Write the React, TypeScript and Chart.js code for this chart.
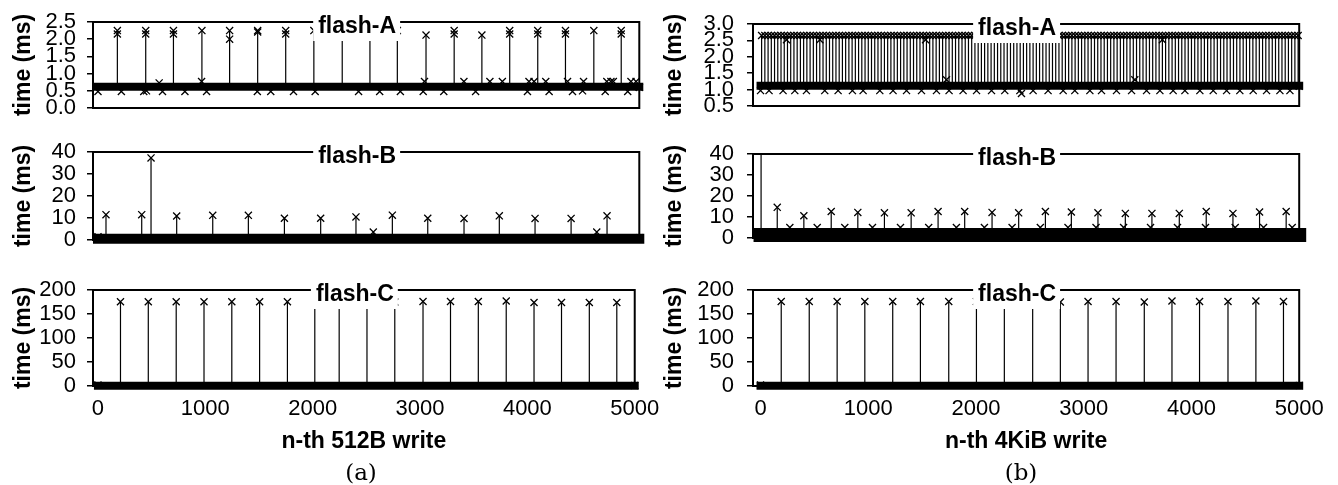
import React, { useEffect, useRef } from "react";
import { Chart, registerables } from "chart.js";

Chart.register(...registerables);
Chart.defaults.font.family = '"Liberation Sans", Arial, sans-serif';
Chart.defaults.color = "#000";

// ---------------- shared tick values ----------------
const X_TICKS = [0, 1000, 2000, 3000, 4000, 5000];
const Y_TICKS_A512 = [0, 0.5, 1, 1.5, 2, 2.5];
const Y_TICKS_A4K = [0.5, 1, 1.5, 2, 2.5, 3];
const Y_TICKS_B = [0, 10, 20, 30, 40];
const Y_TICKS_C = [0, 50, 100, 150, 200];

// ---------------- (a) n-th 512B write ----------------
// flash-A
const A512_BASE = 0.62;
const A512_SPIKE_X = [179, 441, 697, 960, 1216, 1475, 1734, 1994, 2256, 2512, 2765, 3030, 3290, 3546, 3803, 4062, 4318, 4580, 4833];
const A512_SPIKE_Y = [2.25, 2.25, 2.25, 2.25, 2.25, 2.25, 2.25, 2.25, 2.25, 2.25, 2.25, 2.12, 2.25, 2.12, 2.25, 2.25, 2.25, 2.25, 2.25];
const A512_MARK_X = [
  179, 441, 697, 1216, 1475, 1734, 3290, 3803, 4062, 4318, 4833,
  0, 216, 423, 448, 596, 803, 1003, 1472, 1596, 1806, 2006, 2407, 2602, 2793, 3004, 3194, 3488, 3967, 4167, 4383, 4476, 4685, 4893, 5000,
  565, 957, 3016, 3380, 3620, 3735, 3981, 4028, 4136, 4337, 4485, 4700, 4738, 4760, 4923, 4970, 5000,
];
const A512_MARK_Y = [
  2.15, 2.15, 2.15, 2.0, 2.21, 2.15, 2.15, 2.15, 2.15, 2.15, 2.15,
  0.48, 0.48, 0.48, 0.5, 0.48, 0.48, 0.48, 0.48, 0.48, 0.48, 0.48, 0.48, 0.48, 0.48, 0.48, 0.48, 0.48, 0.48, 0.48, 0.48, 0.5, 0.48, 0.48, 0.6,
  0.73, 0.77, 0.77, 0.77, 0.77, 0.77, 0.77, 0.77, 0.77, 0.77, 0.77, 0.77, 0.77, 0.77, 0.77, 0.77, 0.6,
];

// flash-B
const B512_BASE = 0.6;
const B512_SPIKE_X = [74, 404, 490, 727, 1060, 1389, 1722, 2057, 2383, 2543, 2719, 3046, 3381, 3707, 4037, 4370, 4607, 4702];
const B512_SPIKE_Y = [11.5, 11.5, 37.3, 10.9, 11.2, 11.2, 9.9, 9.9, 10.5, 3.6, 11.3, 9.9, 9.8, 11.0, 9.8, 9.8, 3.6, 11.0];
const B512_MARK_X = [0, 5000];
const B512_MARK_Y = [1.5, 1.0];

// flash-C
const C512_BASE = 0.5;
const C512_SPIKE_X = [210, 469, 729, 988, 1247, 1506, 1765, 2020, 2247, 2506, 2765, 3028, 3284, 3543, 3803, 4062, 4318, 4577, 4833];
const C512_SPIKE_Y = [175.5, 175.5, 175.5, 175.5, 175.5, 175.5, 175.5, 175, 175, 175, 175, 176, 176, 176, 177, 174, 174, 174, 174];
const C512_MARK_X = [0, 5000];
const C512_MARK_Y = [2, 1];

// ---------------- (b) n-th 4KiB write ----------------
// flash-A
const A4K_BASE = 1.12;
const A4K_PEAK = 2.65;
const A4K_SPIKE_X = [
  10, 40, 70, 100, 130, 160, 190, 220, 250, 280, 310, 340, 370, 400, 430, 460, 490, 520, 550, 580,
  610, 640, 670, 700, 730, 760, 790, 820, 850, 880, 910, 940, 970, 1000, 1030, 1060, 1090, 1120, 1150, 1180,
  1210, 1240, 1270, 1300, 1330, 1360, 1390, 1420, 1450, 1480, 1510, 1540, 1570, 1600, 1630, 1660, 1690, 1720, 1750, 1780,
  1810, 1840, 1870, 1900, 1930, 1960, 1990, 2020, 2050, 2080, 2110, 2140, 2170, 2200, 2230, 2260, 2290, 2320, 2350, 2380,
  2410, 2440, 2470, 2500, 2530, 2560, 2590, 2620, 2650, 2680, 2710, 2740, 2770, 2800, 2830, 2860, 2890, 2920, 2950, 2980,
  3010, 3040, 3070, 3100, 3130, 3160, 3190, 3220, 3250, 3280, 3310, 3340, 3370, 3400, 3430, 3460, 3490, 3520, 3550, 3580,
  3610, 3640, 3670, 3700, 3730, 3760, 3790, 3820, 3850, 3880, 3910, 3940, 3970, 4000, 4030, 4060, 4090, 4120, 4150, 4180,
  4210, 4240, 4270, 4300, 4330, 4360, 4390, 4420, 4450, 4480, 4510, 4540, 4570, 4600, 4630, 4660, 4690, 4720, 4750, 4780,
  4810, 4840, 4870, 4900, 4930, 4960, 4990,
];
const A4K_MARK_X = [
  0, 79, 209, 318, 426, 596, 720, 853, 952, 1107, 1230, 1355, 1494, 1633, 1750, 1880, 2005, 2144, 2267, 2407,
  2530, 2669, 2809, 2917, 3057, 3165, 3304, 3444, 3583, 3707, 3830, 3939, 4078, 4202, 4326, 4449, 4573, 4697, 4821, 4914, 5000,
  2422, 241, 551, 1532, 3730, 1726, 3474,
];
const A4K_MARK_Y = [
  0.97, 0.97, 0.97, 0.97, 0.97, 0.97, 0.97, 0.97, 0.97, 0.97, 0.97, 0.97, 0.97, 0.97, 0.97, 0.97, 0.97, 0.97, 0.97, 0.97,
  0.97, 0.97, 0.97, 0.97, 0.97, 0.97, 0.97, 0.97, 0.97, 0.97, 0.97, 0.97, 0.97, 0.97, 0.97, 0.97, 0.97, 0.97, 0.97, 0.97, 1.1,
  0.88, 2.52, 2.52, 2.52, 2.52, 1.3, 1.3,
];

// flash-B
const B4K_BASE = 1.4;
const B4K_SPIKE_X = [
  5, 155, 272, 402, 526, 656, 782, 903, 1039, 1150, 1299, 1398, 1561, 1648, 1818, 1895, 2078, 2149, 2335, 2396,
  2597, 2644, 2854, 2885, 3114, 3132, 3370, 3386, 3620, 3633, 3870, 3887, 4130, 4137, 4385, 4406, 4632, 4669, 4879, 4935,
];
const B4K_SPIKE_Y = [
  60, 14.6, 5.0, 10.6, 5.0, 12.6, 5.0, 12.2, 5.0, 12.0, 5.0, 12.0, 5.0, 12.6, 5.0, 12.6, 5.0, 12.2, 5.0, 12.0,
  5.0, 12.6, 5.0, 12.4, 5.0, 12.0, 5.0, 11.7, 5.0, 11.7, 5.0, 11.7, 5.0, 12.6, 11.7, 5.0, 12.4, 5.0, 12.6, 5.0,
];
const B4K_MARK_X = [0, 5000];
const B4K_MARK_Y = [2, 1.5];

// flash-C
const C4K_BASE = 0.5;
const C4K_SPIKE_X = [192, 452, 711, 968, 1227, 1484, 1747, 2004, 2263, 2526, 2783, 3040, 3300, 3562, 3819, 4075, 4339, 4598, 4854];
const C4K_SPIKE_Y = [176, 176, 176, 176, 176, 176, 176, 176, 175, 175, 175, 176, 176, 175, 177, 176, 176, 177, 176];
const C4K_MARK_X = [0, 5000];
const C4K_MARK_Y = [2, 1];

// ---------------- panel definitions ----------------
type PanelData = {
  title: string;
  yTicks: number[];
  decimals: number;
  base: number;
  spikeX: number[];
  spikeY: number[] | number;
  markX: number[];
  markY: number[];
  xTitle?: string;
};

type PanelLayout = {
  left: number;
  top: number;
  width: number;
  height: number;
  padL: number;
  padR: number;
  padT: number;
  padB: number;
  yAxisW: number;
  tickPad: number;
  xMin: number;
  band: number;
  showX: boolean;
  xAxisH: number;
};

const TICK_FONT = 22;
const BOLD_FONT = 23;

const framePlugin = {
  id: "frame",
  afterDatasetsDraw(chart: any, _args: any, opts: any) {
    const { ctx, chartArea } = chart;
    const { left, top, right, bottom } = chartArea;
    ctx.save();
    ctx.strokeStyle = "#000";
    ctx.lineWidth = 2;
    ctx.strokeRect(left, top, right - left, bottom - top);
    ctx.font = `bold ${BOLD_FONT}px "Liberation Sans", Arial, sans-serif`;
    const text = opts.text || "";
    const w = ctx.measureText(text).width;
    const cx = (left + right) / 2 - 9;
    ctx.fillStyle = "#fff";
    ctx.fillRect(cx - w / 2 - 5, top - 15, w + 9, 34);
    ctx.fillStyle = "#000";
    ctx.textAlign = "center";
    ctx.textBaseline = "alphabetic";
    ctx.fillText(text, cx, top + 10.5);
    ctx.restore();
  },
};

function buildConfig(d: PanelData, L: PanelLayout): any {
  const peaks = d.spikeX.map((x, i) => ({
    x,
    y: Array.isArray(d.spikeY) ? d.spikeY[i] : d.spikeY,
  }));
  const line: { x: number; y: number }[] = [];
  peaks.forEach((p) => {
    line.push({ x: p.x, y: d.base }, { x: p.x, y: p.y }, { x: p.x, y: d.base });
  });
  const marks = d.markX.map((x, i) => ({ x, y: d.markY[i] }));
  const clip = { left: 10, right: 10, top: 0, bottom: 10 };
  const yMin = d.yTicks[0];
  const yMax = d.yTicks[d.yTicks.length - 1];
  return {
    type: "scatter",
    data: {
      datasets: [
        {
          data: [...peaks, ...marks],
          showLine: false,
          pointStyle: "crossRot",
          pointRadius: 5,
          pointBorderWidth: 1.3,
          pointBorderColor: "#000",
          pointBackgroundColor: "#000",
          clip,
        },
        {
          data: line,
          showLine: true,
          borderColor: "#000",
          borderWidth: 1.2,
          pointRadius: 0,
          tension: 0,
          clip,
        },
        {
          data: [
            { x: X_TICKS[0], y: d.base },
            { x: X_TICKS[X_TICKS.length - 1], y: d.base },
          ],
          showLine: true,
          borderColor: "#000",
          borderWidth: L.band,
          borderCapStyle: "square",
          pointRadius: 0,
          clip,
        },
      ],
    },
    options: {
      animation: false,
      responsive: false,
      maintainAspectRatio: false,
      events: [],
      layout: { padding: { left: L.padL, right: L.padR, top: L.padT, bottom: L.padB } },
      plugins: {
        legend: { display: false },
        tooltip: { enabled: false },
        frame: { text: d.title },
      },
      scales: {
        x: {
          type: "linear",
          min: L.xMin,
          max: 5000,
          display: L.showX,
          afterBuildTicks: (s: any) => {
            s.ticks = X_TICKS.map((v) => ({ value: v }));
          },
          afterFit: (s: any) => {
            s.height = L.xAxisH;
          },
          grid: { display: false, drawTicks: false },
          border: { display: false },
          ticks: {
            color: "#000",
            font: { size: TICK_FONT },
            padding: 9.8,
            maxRotation: 0,
            autoSkip: false,
            callback: (v: any) => String(v),
          },
          title: {
            display: !!d.xTitle,
            text: d.xTitle || "",
            color: "#000",
            font: { size: BOLD_FONT, weight: "bold" },
            padding: 0,
          },
        },
        y: {
          type: "linear",
          min: yMin,
          max: yMax,
          afterBuildTicks: (s: any) => {
            s.ticks = d.yTicks.map((v) => ({ value: v }));
          },
          afterFit: (s: any) => {
            s.width = L.yAxisW;
          },
          grid: {
            drawOnChartArea: false,
            drawTicks: true,
            tickLength: 6,
            color: "#000",
            lineWidth: 1.5,
          },
          border: { display: false },
          ticks: {
            color: "#000",
            font: { size: TICK_FONT, lineHeight: 1 },
            padding: L.tickPad,
            autoSkip: false,
            callback: (v: any) => Number(v).toFixed(d.decimals),
          },
          title: {
            display: true,
            text: "time (ms)",
            color: "#000",
            font: { size: BOLD_FONT, weight: "bold" },
            padding: 0,
          },
        },
      },
    },
    plugins: [framePlugin],
  };
}

const LEFT_COL = { left: 0, width: 669, padL: 9.5, padR: 29.7, yAxisW: 83.5, xMin: -46, tickPad: 11 };
const RIGHT_COL = { left: 650, width: 688, padL: 11.2, padR: 38.8, yAxisW: 91.8, xMin: -70, tickPad: 13 };
const ROW_A = { top: 0, height: 130, padB: 17, showX: false, xAxisH: 0 };
const ROW_B = { top: 130, height: 132, padT: 18.3, padB: 13, showX: false, xAxisH: 0 };
const ROW_C = { top: 262, height: 200, padT: 28, padB: 6.2, showX: true, xAxisH: 69.8 };

const PANELS: { d: PanelData; L: PanelLayout }[] = [
  {
    d: { title: "flash-A", yTicks: Y_TICKS_A512, decimals: 1, base: A512_BASE, spikeX: A512_SPIKE_X, spikeY: A512_SPIKE_Y, markX: A512_MARK_X, markY: A512_MARK_Y },
    L: { ...LEFT_COL, ...ROW_A, padT: 17, band: 8 },
  },
  {
    d: { title: "flash-B", yTicks: Y_TICKS_B, decimals: 0, base: B512_BASE, spikeX: B512_SPIKE_X, spikeY: B512_SPIKE_Y, markX: B512_MARK_X, markY: B512_MARK_Y },
    L: { ...LEFT_COL, ...ROW_B, band: 10 },
  },
  {
    d: { title: "flash-C", yTicks: Y_TICKS_C, decimals: 0, base: C512_BASE, spikeX: C512_SPIKE_X, spikeY: C512_SPIKE_Y, markX: C512_MARK_X, markY: C512_MARK_Y, xTitle: "n-th 512B write" },
    L: { ...LEFT_COL, ...ROW_C, band: 8 },
  },
  {
    d: { title: "flash-A", yTicks: Y_TICKS_A4K, decimals: 1, base: A4K_BASE, spikeX: A4K_SPIKE_X, spikeY: A4K_PEAK, markX: A4K_MARK_X, markY: A4K_MARK_Y },
    L: { ...RIGHT_COL, ...ROW_A, padT: 16, band: 8 },
  },
  {
    d: { title: "flash-B", yTicks: Y_TICKS_B, decimals: 0, base: B4K_BASE, spikeX: B4K_SPIKE_X, spikeY: B4K_SPIKE_Y, markX: B4K_MARK_X, markY: B4K_MARK_Y },
    L: { ...RIGHT_COL, ...ROW_B, band: 14 },
  },
  {
    d: { title: "flash-C", yTicks: Y_TICKS_C, decimals: 0, base: C4K_BASE, spikeX: C4K_SPIKE_X, spikeY: C4K_SPIKE_Y, markX: C4K_MARK_X, markY: C4K_MARK_Y, xTitle: "n-th 4KiB write" },
    L: { ...RIGHT_COL, ...ROW_C, band: 8 },
  },
];

function Panel({ d, L }: { d: PanelData; L: PanelLayout }) {
  const ref = useRef<HTMLCanvasElement | null>(null);
  useEffect(() => {
    if (!ref.current) return;
    const chart = new Chart(ref.current, buildConfig(d, L));
    return () => chart.destroy();
  }, [d, L]);
  return (
    <canvas
      ref={ref}
      width={L.width}
      height={L.height}
      style={{ position: "absolute", left: L.left, top: L.top, width: L.width, height: L.height }}
    />
  );
}

const captionStyle: React.CSSProperties = {
  position: "absolute",
  top: 458,
  width: 80,
  textAlign: "center",
  fontFamily: '"DejaVu Serif", "Liberation Serif", serif',
  fontSize: 23,
  lineHeight: "28px",
  color: "#000",
};

export default function App() {
  return (
    <div style={{ position: "fixed", left: 0, top: 0, width: 1338, height: 485, background: "#fff", overflow: "hidden" }}>
      {PANELS.map((p, i) => (
        <Panel key={i} d={p.d} L={p.L} />
      ))}
      <div style={{ ...captionStyle, left: 361 - 40 }}>(a)</div>
      <div style={{ ...captionStyle, left: 1021 - 40 }}>(b)</div>
    </div>
  );
}
